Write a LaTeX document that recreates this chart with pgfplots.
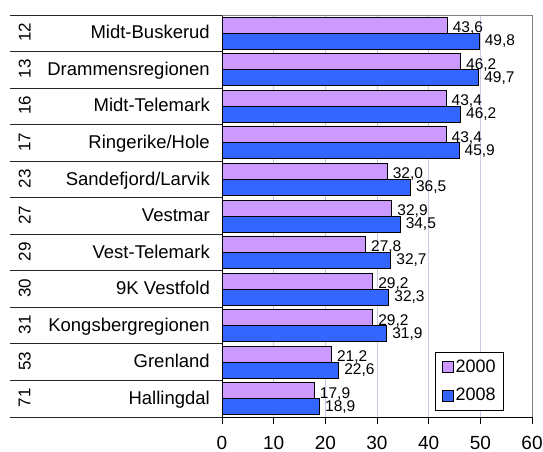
\documentclass[border=0pt]{standalone}
\usepackage{pgfplots}
\pgfplotsset{compat=1.18}
\usepackage{pgfplotstable}
\usepackage{graphicx}
\usepackage{fontspec}
\setmainfont{Liberation Sans}
\definecolor{c2000}{HTML}{CC99FF}
\definecolor{c2008}{HTML}{3366FF}
\definecolor{gridc}{HTML}{C8C8EC}

\pgfplotstableread{
y a b
10 43.6 49.8
9 46.2 49.7
8 43.4 46.2
7 43.4 45.9
6 32.0 36.5
5 32.9 34.5
4 27.8 32.7
3 29.2 32.3
2 29.2 31.9
1 21.2 22.6
0 17.9 18.9
}\data

\newcommand{\rk}[1]{\smash{\raisebox{-3pt}{\fontsize{17}{19}\selectfont\rotatebox{90}{#1}}}}
\newcommand{\lab}[2]{\makebox[191pt][l]{\rk{#1}\hfill #2}}

\begin{document}
\begin{tikzpicture}
\path[use as bounding box] (0,0) rectangle (543pt,-452pt);
\begin{axis}[
  at={(222pt,-417pt)}, anchor=south west,
  scale only axis, width=310pt, height=402pt,
  xbar, bar width=16pt,
  xmin=0, xmax=60, ymin=-0.5, ymax=10.5,
  xtick={0,10,...,60}, ytick={0,...,10},
  yticklabels={{\lab{71}{Hallingdal}},{\lab{53}{Grenland}},{\lab{31}{Kongsbergregionen}},{\lab{30}{9K Vestfold}},{\lab{29}{Vest-Telemark}},{\lab{27}{Vestmar}},{\lab{23}{Sandefjord/Larvik}},{\lab{17}{Ringerike/Hole}},{\lab{16}{Midt-Telemark}},{\lab{13}{Drammensregionen}},{\lab{12}{Midt-Buskerud}}},
  axis x line*=bottom, axis y line*=left,
  axis line style={black, line width=1pt},
  tick align=outside, major tick length=7pt,
  x tick style={black, line width=1pt},
  y tick style={draw=none},
  xmajorgrids, grid style={gridc, line width=0.8pt},
  yticklabel style={font=\fontsize{18.5}{21}\selectfont, anchor=east, inner sep=0pt, xshift=-5pt, yshift=1pt, text height=13.2pt, text depth=0pt},
  xticklabel style={font=\fontsize{19}{21}\selectfont, yshift=-11pt, inner sep=1pt},
  /pgf/number format/assume math mode=true,
  clip=false,
  point meta=x,
  nodes near coords={\pgfmathprintnumber[fixed,fixed zerofill,precision=1,use comma,assume math mode=true]{\pgfplotspointmeta}},
  nodes near coords style={font=\fontsize{15.5}{17}\selectfont, anchor=west, inner sep=0pt, xshift=5pt, text=black},
  legend style={at={(0.91,0.015)}, anchor=south east, draw=black, line width=1pt, font=\fontsize{18}{20}\selectfont, row sep=10pt, inner xsep=6pt, inner ysep=6pt, legend cell align=left},
  legend image code/.code={\draw[#1, draw=black, line width=0.8pt] (0pt,-5.5pt) rectangle (11pt,5.5pt);},
]
\addplot[fill=c2000, draw=black, line width=1pt, bar shift=8pt, every node near coord/.append style={yshift=-3pt}] table[x=a, y=y] {\data};
\addplot[fill=c2008, draw=black, line width=1pt, bar shift=-8pt] table[x=b, y=y] {\data};
\legend{2000,2008}
\draw[gray, line width=1pt] (axis cs:0,10.5) -- (axis cs:60,10.5) -- (axis cs:60,-0.5);
\pgfplotsinvokeforeach{-0.5,0.5,...,10.5}{
  \draw[black!85, line width=1pt] ([xshift=-212pt]axis cs:0,#1) -- (axis cs:0,#1);
}
\end{axis}
\end{tikzpicture}
\end{document}
